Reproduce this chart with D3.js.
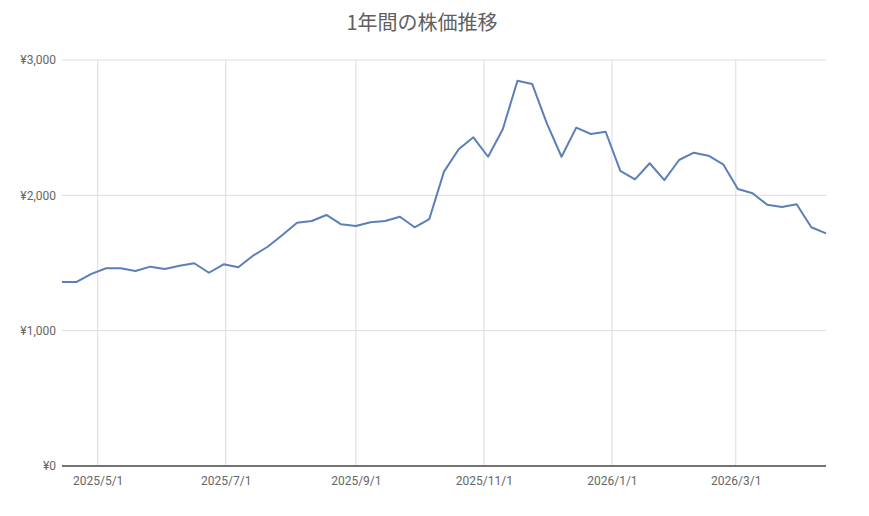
<!DOCTYPE html>
<html>
<head>
<meta charset="utf-8">
<script src="https://cdn.jsdelivr.net/npm/d3@7"></script>
<style>
  html, body { margin: 0; padding: 0; background: #fff; }
  svg { display: block; }
</style>
</head>
<body>
<svg id="chart" width="869" height="516"></svg>
<script>
const title = "1年間の株価推移";

const dates = [
  "2025-04-14","2025-04-21","2025-04-28","2025-05-05","2025-05-12","2025-05-19","2025-05-26",
  "2025-06-02","2025-06-09","2025-06-16","2025-06-23","2025-06-30","2025-07-07","2025-07-14",
  "2025-07-21","2025-07-28","2025-08-04","2025-08-11","2025-08-18","2025-08-25","2025-09-01",
  "2025-09-08","2025-09-15","2025-09-22","2025-09-29","2025-10-06","2025-10-13","2025-10-20",
  "2025-10-27","2025-11-03","2025-11-10","2025-11-17","2025-11-24","2025-12-01","2025-12-08",
  "2025-12-15","2025-12-22","2025-12-29","2026-01-05","2026-01-12","2026-01-19","2026-01-26",
  "2026-02-02","2026-02-09","2026-02-16","2026-02-23","2026-03-02","2026-03-09","2026-03-16",
  "2026-03-23","2026-03-30","2026-04-06","2026-04-13"
];

const prices = [
  1360, 1360, 1420, 1461, 1461, 1441, 1473,
  1456, 1480, 1498, 1428, 1490, 1468, 1554,
  1620, 1707, 1798, 1810, 1855, 1786, 1773,
  1801, 1810, 1842, 1764, 1825, 2175, 2340,
  2429, 2285, 2488, 2847, 2823, 2532, 2285,
  2500, 2453, 2470, 2180, 2118, 2237, 2113,
  2261, 2315, 2293, 2229, 2047, 2015, 1931,
  1914, 1934, 1764, 1719
];

const yTicks = [0, 1000, 2000, 3000];
const xTickDates = ["2025-05-01","2025-07-01","2025-09-01","2025-11-01","2026-01-01","2026-03-01"];
const xTickLabels = ["2025/5/1","2025/7/1","2025/9/1","2025/11/1","2026/1/1","2026/3/1"];

const parse = d3.timeParse("%Y-%m-%d");
const data = dates.map((d, i) => ({ date: parse(d), value: prices[i] }));

const svg = d3.select("#chart");
const margin = { left: 62, right: 43, top: 60, bottom: 50 };
const W = 869, H = 516;
const x = d3.scaleTime()
  .domain(d3.extent(data, d => d.date))
  .range([margin.left, W - margin.right]);
const y = d3.scaleLinear()
  .domain([0, 3000])
  .range([H - margin.bottom, margin.top]);

const font = "Roboto, 'Noto Sans CJK JP', sans-serif";

// Title
svg.append("text")
  .attr("x", 422).attr("y", 30)
  .attr("text-anchor", "middle")
  .attr("font-family", "'Noto Sans CJK JP', Roboto, sans-serif")
  .attr("font-size", 20)
  .attr("fill", "#5f5f5f")
  .text(title);

// Horizontal gridlines
svg.append("g")
  .selectAll("line")
  .data(yTicks.filter(t => t > 0))
  .join("line")
  .attr("x1", margin.left).attr("x2", W - margin.right)
  .attr("y1", d => y(d)).attr("y2", d => y(d))
  .attr("stroke", "#dcdcdc").attr("stroke-width", 1);

// Vertical gridlines
const xt = xTickDates.map(parse);
svg.append("g")
  .selectAll("line")
  .data(xt)
  .join("line")
  .attr("x1", d => x(d)).attr("x2", d => x(d))
  .attr("y1", y(3000)).attr("y2", y(0))
  .attr("stroke", "#dcdcdc").attr("stroke-width", 1);

// Y axis labels
const yAxis = d3.axisLeft(y).tickValues(yTicks)
  .tickFormat(d => "¥" + d3.format(",")(d))
  .tickSize(0).tickPadding(6);
const gy = svg.append("g").attr("transform", `translate(${margin.left},0)`).call(yAxis);
gy.select(".domain").remove();
gy.selectAll("text")
  .attr("font-family", font).attr("font-size", 12).attr("fill", "#666");

// X axis labels
const xAxis = d3.axisBottom(x).tickValues(xt)
  .tickFormat((d, i) => xTickLabels[i])
  .tickSize(0).tickPadding(10);
const gx = svg.append("g").attr("transform", `translate(0,${y(0)})`).call(xAxis);
gx.select(".domain").remove();
gx.selectAll("text")
  .attr("font-family", font).attr("font-size", 12).attr("fill", "#666");

// Baseline
svg.append("line")
  .attr("x1", margin.left).attr("x2", W - margin.right)
  .attr("y1", y(0)).attr("y2", y(0))
  .attr("stroke", "#444").attr("stroke-width", 1.5);

// Line
const line = d3.line().x(d => x(d.date)).y(d => y(d.value));
svg.append("path")
  .datum(data)
  .attr("d", line)
  .attr("fill", "none")
  .attr("stroke", "#5b7fb8")
  .attr("stroke-width", 2)
  .attr("stroke-linejoin", "round");
</script>
</body>
</html>
